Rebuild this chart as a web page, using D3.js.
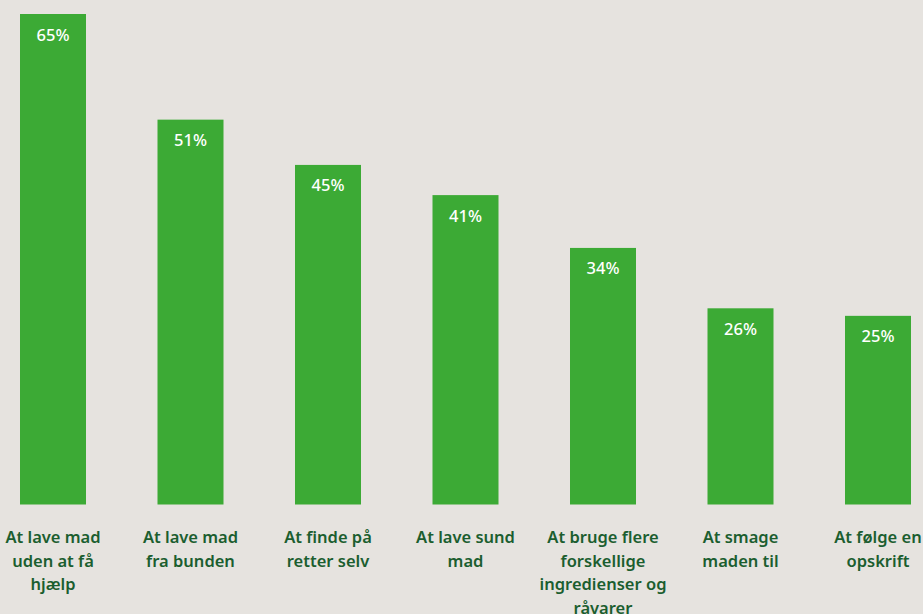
<!DOCTYPE html>
<html>
<head>
<meta charset="utf-8">
<script src="https://cdn.jsdelivr.net/npm/d3@7"></script>
<style>
  html, body { margin: 0; padding: 0; background: #e6e3df; }
  svg { display: block; }
  text { font-family: "Noto Sans", "Open Sans", sans-serif; }
</style>
</head>
<body>
<svg id="chart" width="923" height="614"></svg>
<script>
// Category labels (line breaks mark where each label wraps)
const categories = [
  "At lave mad\nuden at få\nhjælp",
  "At lave mad\nfra bunden",
  "At finde på\nretter selv",
  "At lave sund\nmad",
  "At bruge flere\nforskellige\ningredienser og\nråvarer",
  "At smage\nmaden til",
  "At følge en\nopskrift"
];
// Share of respondents, in percent
const values = [65, 51, 45, 41, 34, 26, 25];

const svg = d3.select("#chart");

const x = d3.scaleBand()
  .domain(d3.range(categories.length))
  .range([20, 911])
  .paddingInner(0.52)
  .paddingOuter(0);

const y = d3.scaleLinear().domain([0, 65]).range([504.5, 14]);

const g = svg.append("g");

g.selectAll("rect.bar")
  .data(values)
  .join("rect")
  .attr("class", "bar")
  .attr("x", (d, i) => x(i))
  .attr("y", d => y(d))
  .attr("width", x.bandwidth())
  .attr("height", d => y(0) - y(d))
  .attr("fill", "#3caa35");

g.selectAll("text.val")
  .data(values)
  .join("text")
  .attr("class", "val")
  .attr("x", (d, i) => x(i) + x.bandwidth() / 2)
  .attr("y", d => y(d) + 26.5)
  .attr("text-anchor", "middle")
  .attr("fill", "#ffffff")
  .attr("font-size", 16.5)
  .attr("font-weight", 500)
  .text(d => d + "%");

const labels = g.selectAll("text.cat")
  .data(categories)
  .join("text")
  .attr("class", "cat")
  .attr("text-anchor", "middle")
  .attr("fill", "#1b5e2f")
  .attr("font-size", 16.5)
  .attr("font-weight", 600)
  .attr("transform", (d, i) => `translate(${x(i) + x.bandwidth() / 2},543)`);

labels.selectAll("tspan")
  .data(d => d.split("\n"))
  .join("tspan")
  .attr("x", 0)
  .attr("y", (d, j) => j * 23.5)
  .text(d => d);
</script>
</body>
</html>
